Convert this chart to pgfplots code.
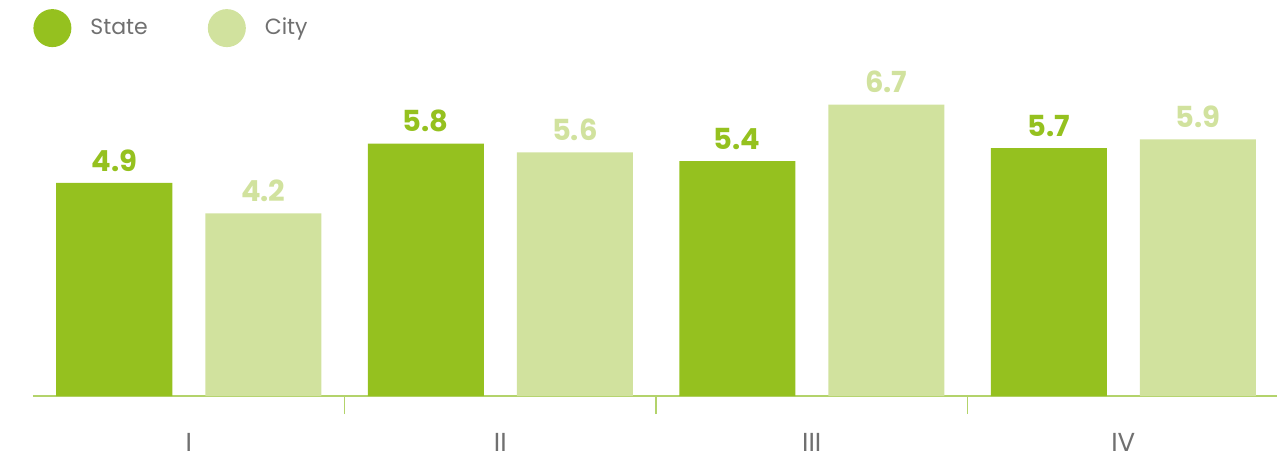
\documentclass[border=0pt]{standalone}
\usepackage{fontspec}
\setmainfont{Poppins}
\usepackage{pgfplots}
\pgfplotsset{compat=1.18}
\definecolor{stateC}{HTML}{95C11F}
\definecolor{cityC}{HTML}{D1E29E}
\definecolor{axC}{HTML}{B3D36B}
\definecolor{txtC}{HTML}{707070}
\pgfplotsset{circlelegend/.style={legend image code/.code={\fill[##1] (9.5pt,0pt) circle (9.5pt);}}}
\begin{document}
\begin{tikzpicture}
\useasboundingbox (-16.5pt,-30pt) rectangle (622pt,198pt);
\begin{axis}[
  at={(0pt,0pt)}, anchor=south west,
  scale only axis, width=622pt, height=198pt,
  xmin=-0.5, xmax=3.4936, ymin=0, ymax=9.103,
  axis y line=none, axis x line*=bottom,
  x axis line style={axC, line width=1pt},
  xtick={0,1,2,3}, xticklabels={I,II,III,IV},
  major tick length=0pt,
  xticklabel style={text=txtC, font=\fontsize{13}{14}\selectfont, anchor=north, inner sep=0pt, text depth=0pt, yshift=-18.5pt},
  extra x ticks={0.5,1.5,2.5}, extra x tick labels={},
  extra x tick style={major tick length=9pt, tick align=outside, tick style={axC, line width=0.7pt}},
  ybar, bar width=58pt,
  /pgf/number format/assume math mode=true,
  nodes near coords={\pgfmathprintnumber[fixed,fixed zerofill,precision=1,assume math mode=true]{\pgfplotspointmeta}},
  nodes near coords style={font=\bfseries\fontsize{14.5}{15}\selectfont, anchor=south, inner sep=0pt, yshift=5.5pt},
  clip=false,
  legend columns=2,
  legend style={draw=none, fill=none, at={(0,0.929)}, anchor=west, inner sep=0pt,
    font=\fontsize{11}{12}\selectfont, text=txtC,
    nodes={inner sep=0pt},
    /tikz/every odd column/.append style={column sep=9.5pt},
    /tikz/every even column/.append style={column sep=30pt}},
]
\addplot[fill=stateC, draw=none, bar shift=-37.25pt, circlelegend,
  every node near coord/.append style={text=stateC}]
  coordinates {(0,4.9) (1,5.8) (2,5.4) (3,5.7)};
\addplot[fill=cityC, draw=none, bar shift=37.25pt, circlelegend,
  every node near coord/.append style={text=cityC}]
  coordinates {(0,4.2) (1,5.6) (2,6.7) (3,5.9)};
\legend{State, City}
\end{axis}
\end{tikzpicture}
\end{document}
